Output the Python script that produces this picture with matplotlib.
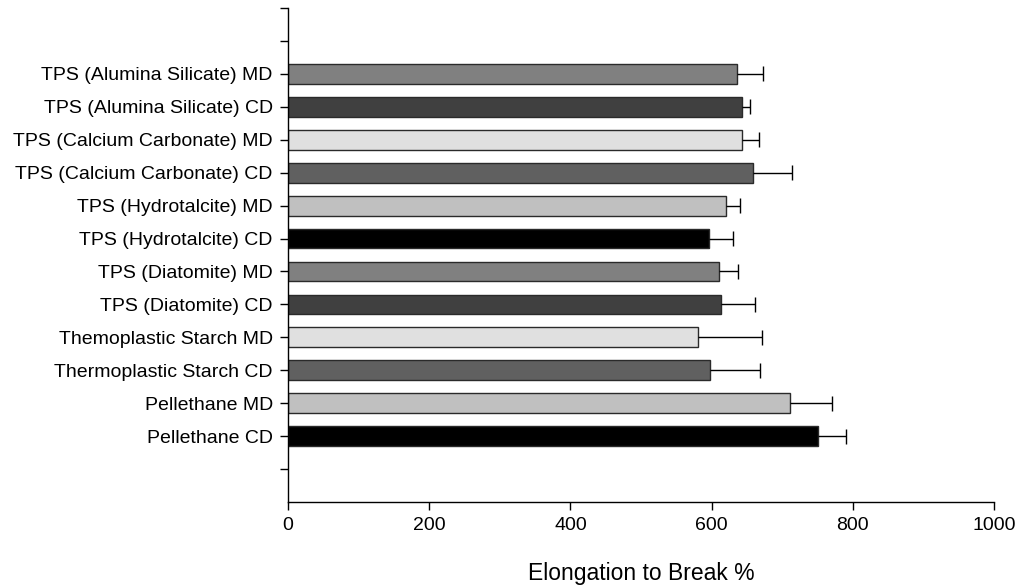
import matplotlib
matplotlib.use("Agg")
import matplotlib.pyplot as plt
import numpy as np

plt.rcParams['font.family'] = ['Liberation Sans', 'DejaVu Sans']

# Samples listed bottom to top
samples = [
    "Pellethane CD",
    "Pellethane MD",
    "Thermoplastic Starch CD",
    "Themoplastic Starch MD",
    "TPS (Diatomite) CD",
    "TPS (Diatomite) MD",
    "TPS (Hydrotalcite) CD",
    "TPS (Hydrotalcite) MD",
    "TPS (Calcium Carbonate) CD",
    "TPS (Calcium Carbonate) MD",
    "TPS (Alumina Silicate) CD",
    "TPS (Alumina Silicate) MD",
]
elongation = [751, 711, 598, 581, 613, 610, 596, 621, 658, 643, 643, 636]
elongation_err = [39, 59, 71, 91, 48, 28, 34, 19, 56, 24, 12, 37]
x_ticks = [0, 200, 400, 600, 800, 1000]

palette = ["#000000", "#c0c0c0", "#606060", "#e0e0e0", "#404040", "#808080"]
colors = [palette[i % len(palette)] for i in range(len(samples))]

fig = plt.figure(figsize=(10.2, 5.86), dpi=100)
ax = fig.add_axes([0.2824, 0.1433, 0.6921, 0.8430])

pos = np.arange(len(samples))
vals = np.array(elongation, dtype=float)
errs = np.array(elongation_err, dtype=float)

ax.barh(pos, vals, height=0.6, color=colors, edgecolor="#2a2a2a",
        linewidth=1.0, zorder=2)

# One-sided (upper) error bars: whisker plus end cap
ax.hlines(pos, vals, vals + errs, colors="black", linewidth=1.0, zorder=3)
ax.vlines(vals + errs, pos - 0.23, pos + 0.23, colors="black",
          linewidth=1.0, zorder=3)

ax.set_xlim(0, 1000)
ax.set_ylim(-2, len(samples) + 1)
ax.set_xticks(x_ticks)
ax.set_xticklabels([str(t) for t in x_ticks])
ytick_pos = np.arange(-1, len(samples) + 2)
ax.set_yticks(ytick_pos)
ax.set_yticklabels([samples[i] if 0 <= i < len(samples) else "" for i in ytick_pos])

for side in ("top", "right"):
    ax.spines[side].set_visible(False)
for side in ("left", "bottom"):
    ax.spines[side].set_linewidth(1.0)

ax.tick_params(axis="both", direction="out", length=6, width=1.0,
               labelsize=14, pad=5)
ax.set_xlabel("Elongation to Break %", fontsize=16.5, labelpad=20)

fig.savefig("out.png", dpi=100)
